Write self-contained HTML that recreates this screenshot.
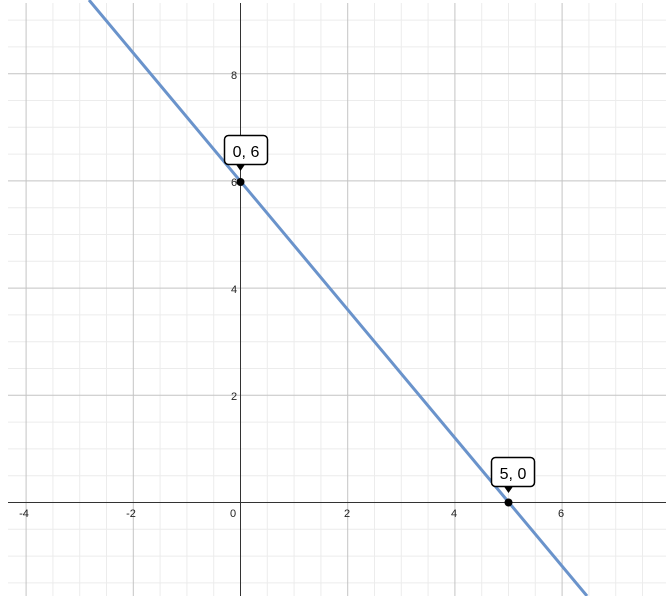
<!DOCTYPE html><html><head><style>body{margin:0;background:#fff}svg{display:block}text{font-family:"Liberation Sans",sans-serif}</style></head><body>
<svg width="666" height="596" viewBox="0 0 666 596">
<defs><clipPath id="c"><rect x="8" y="3" width="658" height="593"/></clipPath></defs>
<g clip-path="url(#c)">
<path stroke="#ececec" stroke-width="1" fill="none" d="M52.9 0V596M79.7 0V596M106.5 0V596M160.1 0V596M186.9 0V596M213.7 0V596M267.3 0V596M294.1 0V596M320.9 0V596M374.5 0V596M401.3 0V596M428.1 0V596M481.7 0V596M508.5 0V596M535.3 0V596M588.9 0V596M615.7 0V596M642.5 0V596
M0 582.9H666M0 556.1H666M0 529.3H666M0 475.7H666M0 448.9H666M0 422.1H666M0 368.5H666M0 341.7H666M0 314.9H666M0 261.3H666M0 234.5H666M0 207.7H666M0 154.1H666M0 127.3H666M0 100.5H666M0 46.9H666M0 20.1H666"/>
<path stroke="#c4c4c4" stroke-width="1" fill="none" d="M26.1 0V596M133.3 0V596M347.7 0V596M454.9 0V596M562.1 0V596M0 395.3H666M0 288.1H666M0 180.9H666M0 73.7H666"/>
<path stroke="#333" stroke-width="1" fill="none" d="M240.5 0V596M0 502.5H666"/>
</g>
<g font-size="11" fill="#222" text-anchor="middle">
<text x="24" y="517">-4</text><text x="131" y="517">-2</text><text x="233" y="517">0</text>
<text x="347" y="517">2</text><text x="454" y="517">4</text><text x="561" y="517">6</text>
<text x="234" y="79">8</text><text x="234" y="186">6</text><text x="234" y="293">4</text><text x="234" y="400">2</text>
</g>
<line x1="89" y1="0" x2="587" y2="596" stroke="#6a93cb" stroke-width="3"/>
<circle cx="240.5" cy="182" r="4" fill="#000"/><circle cx="508.5" cy="502.5" r="4" fill="#000"/>
<g font-size="16" fill="#000">
<rect x="224.5" y="135.5" width="43" height="29" rx="4" fill="#fff" stroke="#000" stroke-width="1.5"/>
<path d="M236 164.5 L240.5 171 L245 164.5Z" fill="#000"/>
<text x="246" y="157" text-anchor="middle">0, 6</text>
<rect x="491.5" y="457.5" width="43" height="29" rx="4" fill="#fff" stroke="#000" stroke-width="1.5"/>
<path d="M504 486.5 L508.5 493 L513 486.5Z" fill="#000"/>
<text x="513" y="479" text-anchor="middle">5, 0</text>
</g>
</svg></body></html>
